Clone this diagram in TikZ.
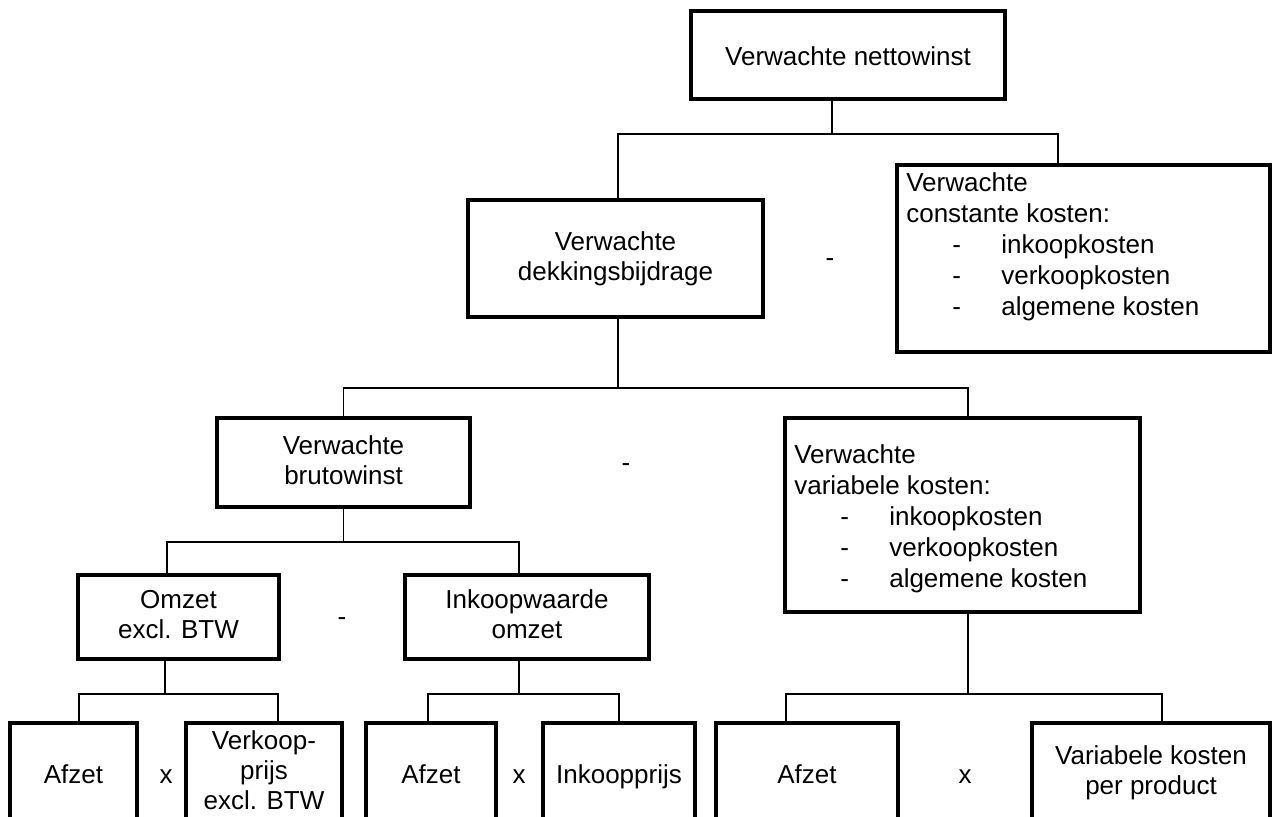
\documentclass[tikz,border=0pt]{standalone}
\usepackage{fontspec}
\setmainfont{Liberation Sans}
\tikzset{
  box/.style={draw, line width=3.8pt, inner sep=0pt, align=center,
    execute at begin node=\rule{0pt}{1em}, execute at end node=\vphantom{gp}},
  conn/.style={line width=1.7pt},
  sign/.style={inner sep=0pt},
  listtext/.style={inner sep=0pt, align=left, anchor=north west, font=\fontsize{26}{31}\selectfont}
}
\newcommand{\kostpost}[1]{\hspace*{46pt}\makebox[49pt][l]{-}#1}

\begin{document}
\begin{tikzpicture}[x=1pt, y=-1pt, font=\fontsize{26}{30}\selectfont]
\useasboundingbox (0,0) rectangle (1273,816);
\clip (0,0) rectangle (1273,816);
\node[box, minimum width=314pt, minimum height=88pt] (top) at (848,55) {Verwachte nettowinst};
\node[box, minimum width=295pt, minimum height=117pt] (dekking) at (615.5,258.5) {Verwachte\\dekkingsbijdrage};
\node[box, minimum width=373pt, minimum height=187pt] (constante) at (1083.5,258.5) {};
\node[listtext] (constantetxt) at ([shift={(11,9)}]constante.north west) {Verwachte\\constante kosten:\\\kostpost{inkoopkosten}\\\kostpost{verkoopkosten}\\\kostpost{algemene kosten}};
\node[box, minimum width=253pt, minimum height=89pt] (bruto) at (343.5,462.5) {Verwachte\\brutowinst};
\node[box, minimum width=355pt, minimum height=194pt] (variabel) at (962.5,515) {};
\node[listtext] (variabeltxt) at ([shift={(11,28)}]variabel.north west) {Verwachte\\variabele kosten:\\\kostpost{inkoopkosten}\\\kostpost{verkoopkosten}\\\kostpost{algemene kosten}};
\node[box, minimum width=201pt, minimum height=84pt] (omzet) at (178.5,617) {Omzet\\excl. BTW};
\node[box, minimum width=244pt, minimum height=84pt] (inkoopw) at (527,617) {Inkoopwaarde\\omzet};
\node[box, minimum width=127pt, minimum height=100pt] (afzet1) at (73.5,773) {Afzet};
\node[box, minimum width=156pt, minimum height=100pt] (verkoop) at (264,773) {Verkoop-\\prijs\\excl. BTW};
\node[box, minimum width=130pt, minimum height=100pt] (afzet2) at (431,773) {Afzet};
\node[box, minimum width=152pt, minimum height=100pt] (inkoopprijs) at (619,773) {Inkoopprijs};
\node[box, minimum width=182pt, minimum height=100pt] (afzet3) at (807,773) {Afzet};
\node[box, minimum width=238pt, minimum height=100pt] (varkost) at (1151,773) {Variabele kosten\\per product};
\node[sign] (min1) at (830,263) {-};
\node[sign] (min2) at (626,468) {-};
\node[sign] (min3) at (342,622) {-};
\node[sign] (maal1) at (166,777) {x};
\node[sign] (maal2) at (519,777) {x};
\node[sign] (maal3) at (965,777) {x};
\draw[conn] ([xshift=-16]top.south) -- ++(0,33) coordinate (bus1);
\draw[conn] ([xshift=2.5]dekking.north) |- (bus1) -| ([xshift=-25.5]constante.north);
\draw[conn] ([xshift=2.5]dekking.south) -- ++(0,69) coordinate (bus2);
\draw[conn] (bruto.north) |- (bus2) -| ([xshift=5.5]variabel.north);
\draw[conn] (bruto.south) -- ++(0,33) coordinate (bus3);
\draw[conn] ([xshift=-11.5]omzet.north) |- (bus3) -| ([xshift=-8]inkoopw.north);
\draw[conn] ([xshift=-13.5]omzet.south) -- ++(0,33) coordinate (bus4);
\draw[conn] ([xshift=5.5]afzet1.north) |- (bus4) -| ([xshift=14]verkoop.north);
\draw[conn] ([xshift=-8]inkoopw.south) -- ++(0,33) coordinate (bus5);
\draw[conn] ([xshift=-3]afzet2.north) |- (bus5) -| (inkoopprijs.north);
\draw[conn] ([xshift=5.5]variabel.south) -- ++(0,80) coordinate (bus6);
\draw[conn] ([xshift=-21]afzet3.north) |- (bus6) -| ([xshift=11]varkost.north);
\end{tikzpicture}
\end{document}
